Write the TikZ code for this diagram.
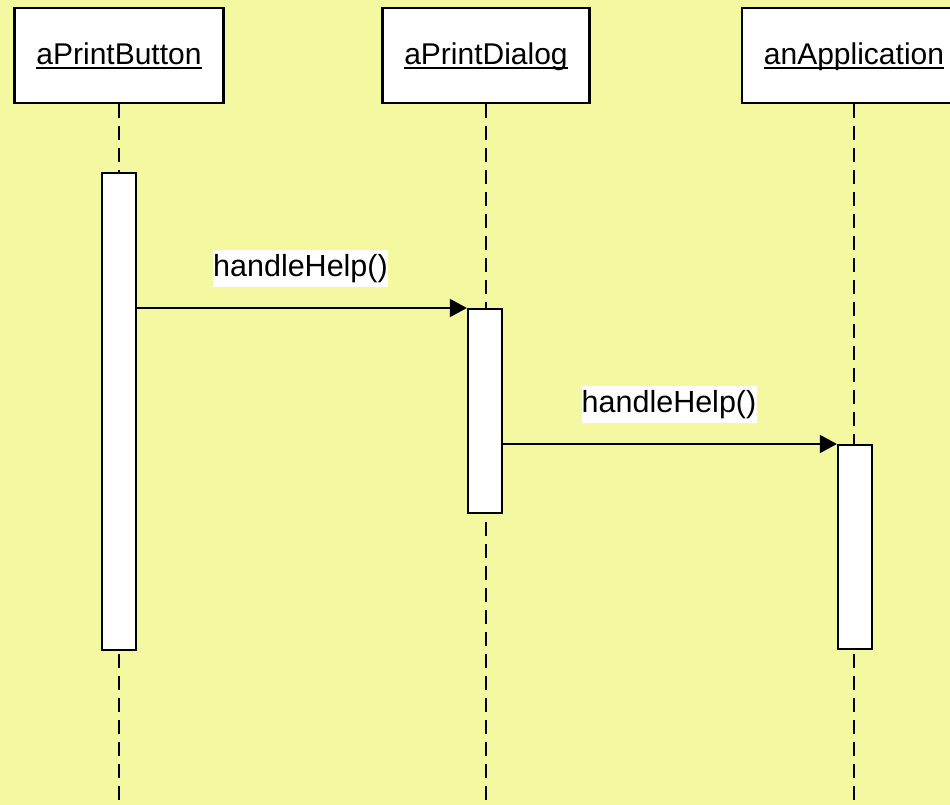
\documentclass[tikz,border=0pt]{standalone}
\usepackage{fontspec}
\setmainfont{Liberation Sans}
\usetikzlibrary{arrows.meta}
\definecolor{bgyellow}{RGB}{244,248,160}

\begin{document}
\begin{tikzpicture}[x=1pt,y=-1pt,
  objbox/.style={draw=black,fill=white,line width=2.2pt,inner sep=0pt,minimum height=95pt},
  objlabel/.style={inner sep=0pt,anchor=base,font=\fontsize{30}{36}\selectfont},
  uline/.style={line width=2pt},
  lifeline/.style={draw=black,line width=2.2pt,dash pattern=on 14pt off 8pt},
  activation/.style={draw=black,fill=white,line width=2.2pt,inner sep=0pt,minimum width=34pt,anchor=north},
  msg/.style={line width=1.6pt,-{Triangle[length=17pt,width=18pt]}},
  msglabel/.style={fill=white,inner sep=0pt,minimum width=175pt,minimum height=37pt,font=\fontsize{30.5}{36}\selectfont}]

  % canvas
  \useasboundingbox (0,0) rectangle (950,805);
  \fill[bgyellow] (0,0) rectangle (950,805);
  \clip (0,0) rectangle (950,805);
  \coordinate (bottom) at (0,805);

  % object heads
  \node[objbox,minimum width=209pt] (obj1) at (119,55.5) {};
  \node[objbox,minimum width=207pt] (obj2) at (486,55.5) {};
  \node[objbox,minimum width=224pt] (obj3) at (854,55.5) {};

  \node[objlabel] (t1) at (119,65) {aPrintButton};
  \node[objlabel] (t2) at (486,65) {aPrintDialog};
  \node[objlabel] (t3) at (854,65) {anApplication};
  \foreach \t in {t1,t2,t3}
    \draw[uline] ([yshift=-3.5pt]\t.base west) -- ([yshift=-3.5pt]\t.base east);

  % lifelines
  \draw[lifeline] (obj1.south) -- (obj1.south |- bottom);
  \draw[lifeline] (obj2.south) -- (obj2.south |- bottom);
  \draw[lifeline] (obj3.south) -- (obj3.south |- bottom);

  % activation bars
  \node[activation,minimum height=477pt] (act1) at (119,172) {};
  \node[activation,minimum height=204pt] (act2) at (485,308) {};
  \node[activation,minimum height=204pt] (act3) at (855,444) {};

  % messages
  \draw[msg] (act1.east |- act2.north west) -- (act2.north west);
  \draw[msg] (act2.east |- act3.north west) -- (act3.north west);
  \node[msglabel] (m1) at (300.5,268.5) {handleHelp()};
  \node[msglabel] (m2) at (669,404.5) {handleHelp()};
\end{tikzpicture}
\end{document}
